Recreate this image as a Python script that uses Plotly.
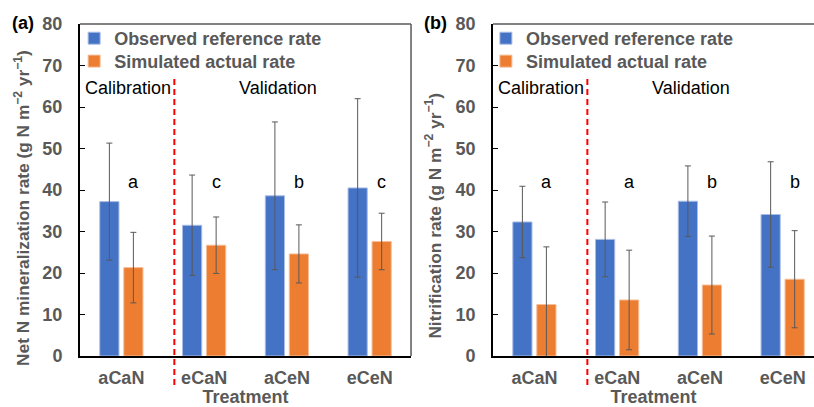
import plotly.graph_objects as go

categories = ["aCaN", "eCaN", "aCeN", "eCeN"]

# Panel (a): Net N mineralization
obs_a = [37.2, 31.5, 38.6, 40.5]
obs_a_err = [14.1, 12.1, 17.8, 21.5]
sim_a = [21.3, 26.7, 24.6, 27.6]
sim_a_err = [8.5, 6.8, 7.0, 6.8]
letters_a = ["a", "c", "b", "c"]

# Panel (b): Nitrification
obs_b = [32.3, 28.1, 37.3, 34.1]
obs_b_err = [8.6, 9.0, 8.5, 12.7]
sim_b = [12.4, 13.5, 17.1, 18.5]
sim_b_err = [13.9, 12.0, 11.8, 11.7]
letters_b = ["a", "a", "b", "b"]

y_ticks = [0, 10, 20, 30, 40, 50, 60, 70, 80]

BLUE = "#4472C4"
ORANGE = "#ED7D31"
GRAY = "#595959"
FONT = "Liberation Sans, Arial, sans-serif"

xs = list(range(len(categories)))

fig = go.Figure()

def add_bars(y_obs, e_obs, y_sim, e_sim, xaxis, yaxis, leg_obs, leg_sim):
    fig.add_trace(go.Bar(
        x=xs, y=y_obs, name="Observed reference rate",
        marker=dict(color=BLUE, line=dict(color="#A9BDE6", width=1)),
        error_y=dict(type="data", array=e_obs, color=GRAY, thickness=1, width=3),
        xaxis=xaxis, yaxis=yaxis, legend=leg_obs, offsetgroup="obs"))
    fig.add_trace(go.Bar(
        x=xs, y=y_sim, name="Simulated actual rate",
        marker=dict(color=ORANGE, line=dict(color="#F6BE98", width=1)),
        error_y=dict(type="data", array=e_sim, color=GRAY, thickness=1, width=3),
        xaxis=xaxis, yaxis=yaxis, legend=leg_sim, offsetgroup="sim"))

add_bars(obs_a, obs_a_err, sim_a, sim_a_err, "x", "y", "legend", "legend2")
add_bars(obs_b, obs_b_err, sim_b, sim_b_err, "x2", "y2", "legend3", "legend4")

tickfont = dict(family=FONT, size=18, color=GRAY, weight="bold")
titlefont = dict(family=FONT, size=17.3, color=GRAY, weight="bold")

xcommon = dict(
    tickmode="array", tickvals=xs, ticktext=categories,
    tickfont=tickfont, showline=True, linecolor="black", linewidth=2,
    ticks="", showgrid=False, zeroline=False, ticklabelstandoff=4, automargin=False,
    title=dict(text="Treatment", font=dict(family=FONT, size=18, color=GRAY, weight="bold"), standoff=8),
)
ycommon = dict(
    range=[0, 80], tickvals=y_ticks, tickfont=tickfont,
    showline=True, linecolor="black", linewidth=2,
    ticks="inside", ticklen=5, tickcolor="black", tickwidth=1,
    showgrid=False, zeroline=False, ticklabelstandoff=12, automargin=False,
)

legfont = dict(family=FONT, size=18, color=GRAY, weight="bold")
def leg(x, y):
    return dict(x=x, y=y, xanchor="left", yanchor="top", bgcolor="rgba(0,0,0,0)",
                font=legfont, itemclick=False, itemdoubleclick=False)

fig.update_layout(
    width=814, height=407,
    margin=dict(l=80, r=0, t=24, b=51),
    paper_bgcolor="white", plot_bgcolor="white",
    barmode="group", bargap=0.42, bargroupgap=0.2,
    xaxis=dict(domain=[0, 0.451], range=[-0.5, 3.5], anchor="y", **xcommon),
    xaxis2=dict(domain=[0.5627, 1.0], range=[-0.5, 3.379], anchor="y2", **xcommon),
    yaxis=dict(anchor="x", **ycommon),
    yaxis2=dict(anchor="x2", **ycommon),
    legend=leg(-0.008, 1.012),
    legend2=leg(-0.008, 0.943),
    legend3=leg(0.553, 1.012),
    legend4=leg(0.553, 0.943),
    showlegend=True,
)

annotations = []
for xa, ya, letters in (("x", "y", letters_a), ("x2", "y2", letters_b)):
    for i, L in enumerate(letters):
        annotations.append(dict(x=i + 0.145, y=42, xref=xa, yref=ya, text=L, showarrow=False,
                                font=dict(family=FONT, size=18, color="black"),
                                xanchor="center", yanchor="middle"))
    annotations.append(dict(x=0.08, y=64.6, xref=xa, yref=ya, text="Calibration", showarrow=False,
                            font=dict(family=FONT, size=18, color="black"), xanchor="center", yanchor="middle"))
    annotations.append(dict(x=1.89, y=64.6, xref=xa, yref=ya, text="Validation", showarrow=False,
                            font=dict(family=FONT, size=18, color="black"), xanchor="center", yanchor="middle"))

# y-axis titles (placed as in the reference, slightly below the axis centre)
annotations.append(dict(x=-0.079, y=0.446, xref="paper", yref="paper", textangle=-90,
                        text="<b>Net N mineralization rate (g N m<sup>−2</sup> yr<sup>−1</sup>)</b>",
                        showarrow=False, font=titlefont, xanchor="center", yanchor="middle"))
annotations.append(dict(x=0.481, y=0.423, xref="paper", yref="paper", textangle=-90,
                        text="<b>Nitrification rate (g N m<sup>−2</sup> yr<sup>−1</sup>)</b>",
                        showarrow=False, font=titlefont, xanchor="center", yanchor="middle"))

annotations.append(dict(x=-0.0777, y=1.003, xref="paper", yref="paper", text="<b>(a)</b>", showarrow=False,
                        font=dict(family=FONT, size=18, color="black"), xanchor="center", yanchor="middle"))
annotations.append(dict(x=0.485, y=1.003, xref="paper", yref="paper", text="<b>(b)</b>", showarrow=False,
                        font=dict(family=FONT, size=18, color="black"), xanchor="center", yanchor="middle"))
fig.update_layout(annotations=annotations)

shapes = []
for xa, ya in (("x", "y"), ("x2", "y2")):
    shapes.append(dict(type="line", xref=xa, yref=ya + " domain", x0=0.64, x1=0.64, y0=-0.087, y1=0.84,
                       line=dict(color="#FF0000", width=2, dash="6px,4px")))
    shapes.append(dict(type="line", xref=xa + " domain", yref=ya + " domain", x0=0, x1=1, y0=1, y1=1,
                       line=dict(color=GRAY, width=1.5)))
shapes.append(dict(type="line", xref="x domain", yref="y domain", x0=1, x1=1, y0=0, y1=1,
                   line=dict(color=GRAY, width=1.5)))
fig.update_layout(shapes=shapes)

fig.write_html("out.html", config={"displayModeBar": False},
               post_script="document.body.style.margin='0';document.body.style.overflow='hidden';")
